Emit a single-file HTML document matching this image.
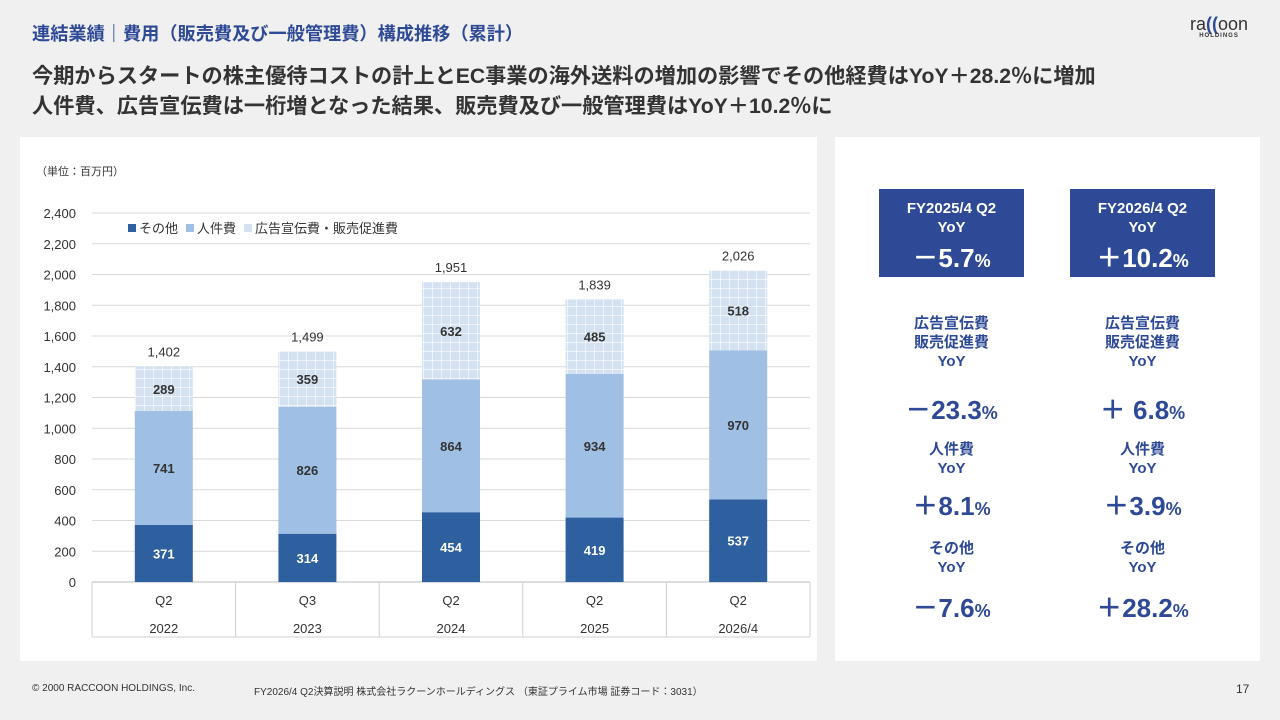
<!DOCTYPE html>
<html><head><meta charset="utf-8">
<style>
body{margin:0;width:1280px;height:720px;background:#f0f0f0;position:relative;overflow:hidden;font-family:"Liberation Sans","Noto Sans CJK JP",sans-serif;color:#333}
.abs{position:absolute}
.t1{left:32px;top:20px;font-size:18.2px;font-weight:bold;color:#2e4a96;white-space:nowrap}
.t2{left:32px;top:62px;font-size:21.2px;font-weight:bold;line-height:30px;color:#333;white-space:nowrap}
.panel{background:#fff}
.box{background:#2e4a96;color:#fff;text-align:center;font-weight:bold;width:145px;height:88px}
.lbl{color:#2e4a96;font-weight:bold;text-align:center;width:145px;font-size:15px;line-height:19px}
.val{color:#2e4a96;font-weight:bold;text-align:center;width:145px;font-size:26px}
.val small{font-size:18px}
</style></head><body>
<div class="abs t1">連結業績｜費用（販売費及び一般管理費）構成推移（累計）</div>
<div class="abs" style="left:1190px;top:14px;font-size:18px;color:#333">ra<span style="color:#2e4a96;font-weight:bold">((</span>oon<div style="font-size:6px;font-weight:bold;letter-spacing:1px;text-align:center;margin-top:-2px">HOLDINGS</div></div>
<div class="abs t2">今期からスタートの株主優待コストの計上とEC事業の海外送料の増加の影響でその他経費はYoY＋28.2％に増加<br>人件費、広告宣伝費は一桁増となった結果、販売費及び一般管理費はYoY＋10.2％に</div>
<div class="abs panel" style="left:20px;top:137px;width:797px;height:524px"></div>
<div class="abs panel" style="left:835px;top:137px;width:425px;height:524px"></div>
<div class="abs" style="left:36px;top:163px;font-size:11px">（単位：百万円）</div>
<svg class="abs" style="left:0;top:0" width="1280" height="720" id="chart">
<defs><pattern id="grid" width="9" height="9" patternUnits="userSpaceOnUse"><rect width="9" height="9" fill="#d3e1f1"/><path d="M0 0H9M0 0V9" stroke="#fff" stroke-width="1.2"/></pattern></defs>
</svg>
<div class="abs box" style="left:879px;top:189px"><div style="font-size:15px;line-height:19px;padding-top:10px">FY2025/4 Q2<br>YoY</div><div style="font-size:26px;margin-top:1px">－5.7<small style="font-size:18px">%</small></div></div>
<div class="abs box" style="left:1070px;top:189px"><div style="font-size:15px;line-height:19px;padding-top:10px">FY2026/4 Q2<br>YoY</div><div style="font-size:26px;margin-top:1px">＋10.2<small style="font-size:18px">%</small></div></div>
<div class="abs lbl" style="left:879px;top:314px">広告宣伝費<br>販売促進費<br>YoY</div>
<div class="abs lbl" style="left:1070px;top:314px">広告宣伝費<br>販売促進費<br>YoY</div>
<div class="abs val" style="left:879px;top:390px">－23.3<small>%</small></div>
<div class="abs val" style="left:1070px;top:390px">＋ 6.8<small>%</small></div>
<div class="abs lbl" style="left:879px;top:440px">人件費<br>YoY</div>
<div class="abs lbl" style="left:1070px;top:440px">人件費<br>YoY</div>
<div class="abs val" style="left:879px;top:486px">＋8.1<small>%</small></div>
<div class="abs val" style="left:1070px;top:486px">＋3.9<small>%</small></div>
<div class="abs lbl" style="left:879px;top:539px">その他<br>YoY</div>
<div class="abs lbl" style="left:1070px;top:539px">その他<br>YoY</div>
<div class="abs val" style="left:879px;top:588px">－7.6<small>%</small></div>
<div class="abs val" style="left:1070px;top:588px">＋28.2<small>%</small></div>
<div class="abs" style="left:32px;top:683px;font-size:10px">© 2000 RACCOON HOLDINGS, Inc.</div>
<div class="abs" style="left:254px;top:683px;font-size:10px">FY2026/4 Q2決算説明 株式会社ラクーンホールディングス （東証プライム市場 証券コード：3031）</div>
<div class="abs" style="left:1236px;top:682px;font-size:12px">17</div>
<script>
const quarters=["Q2","Q3","Q2","Q2","Q2"];
const years=["2022","2023","2024","2025","2026/4"];
const other=[371,314,454,419,537];
const personnel=[741,826,864,934,970];
const advertising=[289,359,632,485,518];
const totals=[1402,1499,1951,1839,2026];
const yTicks=[0,200,400,600,800,1000,1200,1400,1600,1800,2000,2200,2400];
const svg=document.getElementById('chart');
const NS='http://www.w3.org/2000/svg';
const x0=92,x1=810,yBase=582,yTop=213,yMax=2400,bw=58;
const ys=v=>yBase-(v/yMax)*(yBase-yTop);
const step=(x1-x0)/quarters.length;
const xc=i=>x0+step*(i+0.5);
function mk(tag,a){const e=document.createElementNS(NS,tag);for(const k in a)e.setAttribute(k,a[k]);svg.appendChild(e);return e;}
function txt(x,y,s,a){const e=mk('text',Object.assign({x:x,y:y,'font-size':13,'text-anchor':'middle','font-family':'Liberation Sans, Noto Sans CJK JP, sans-serif',fill:'#333'},a||{}));e.textContent=s;return e;}
yTicks.forEach(v=>{
 const l=mk('line',{x1:x0,x2:x1,y1:ys(v),y2:ys(v),stroke:v===0?'#bbb':'#d9d9d9'});
 
 
 const t=txt(76,ys(v)+5,v.toLocaleString('en-US'),{'text-anchor':'end','font-size':13});
 
 
});
mk('line',{x1:x0,x2:x1,y1:637,y2:637,stroke:'#d0d0d0'});
for(let i=0;i<=quarters.length;i++){mk('line',{x1:x0+step*i,x2:x0+step*i,y1:yBase,y2:637,stroke:'#d0d0d0'});}
quarters.forEach((q,i)=>{
 const a=txt(xc(i),605,q,{'font-size':13});
 
 
 const b=txt(xc(i),633,years[i],{'font-size':13});
 
 
 let base=0;
 const segs=[[other[i],'#2e5f9e','#fff','bar-other'],[personnel[i],'#9fbfe4','#333','bar-personnel'],[advertising[i],'url(#grid)','#333','bar-advertising']];
 segs.forEach(s=>{
  const r=mk('rect',{x:xc(i)-bw/2,y:ys(base+s[0]),width:bw,height:ys(base)-ys(base+s[0]),fill:s[1]});
  
  
  const t=txt(xc(i),(ys(base)+ys(base+s[0]))/2+5,String(s[0]),{fill:s[2],'font-size':13,'font-weight':'bold'});
  
  
  base+=s[0];
 });
 const tt=txt(xc(i),ys(totals[i])-10,totals[i].toLocaleString('en-US'),{'font-size':13});
 
 
});
const lg=[['#2e5f9e','その他',128],['#9fbfe4','人件費',186],['#d3e1f1','広告宣伝費・販売促進費',244]];
lg.forEach(l=>{
 const r=mk('rect',{x:l[2],y:224,width:8,height:8,fill:l[0]});
 
 
 const t=txt(l[2]+11,233,l[1],{'text-anchor':'start','font-size':13});
 
 
});
</script>
</body></html>
